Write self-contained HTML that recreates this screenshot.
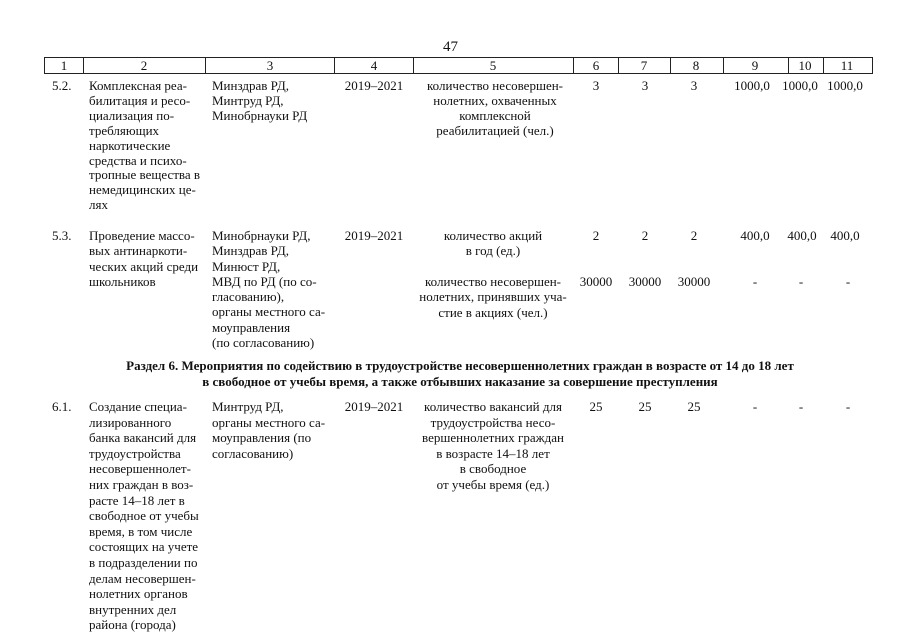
<!DOCTYPE html>
<html><head><meta charset="utf-8"><style>
body{margin:0;background:#fff;width:905px;height:640px;overflow:hidden;position:relative;font-family:"Liberation Serif","DejaVu Serif",serif;color:#111;font-size:13px}
.a{position:absolute;white-space:nowrap}
.c{position:absolute;white-space:nowrap;transform:translateX(-50%);text-align:center}
.v{position:absolute;background:#222;width:1px}
.h{position:absolute;background:#222;height:1px}
</style></head><body>
<div class="a" style="left:443px;top:39px;font-size:15px">47</div>
<div class="h" style="left:44px;top:57px;width:828px"></div>
<div class="h" style="left:44px;top:73px;width:828px"></div>
<div class="v" style="left:44px;top:57px;height:17px"></div>
<div class="v" style="left:83px;top:57px;height:17px"></div>
<div class="v" style="left:205px;top:57px;height:17px"></div>
<div class="v" style="left:334px;top:57px;height:17px"></div>
<div class="v" style="left:413px;top:57px;height:17px"></div>
<div class="v" style="left:573px;top:57px;height:17px"></div>
<div class="v" style="left:618px;top:57px;height:17px"></div>
<div class="v" style="left:670px;top:57px;height:17px"></div>
<div class="v" style="left:723px;top:57px;height:17px"></div>
<div class="v" style="left:788px;top:57px;height:17px"></div>
<div class="v" style="left:823px;top:57px;height:17px"></div>
<div class="v" style="left:872px;top:57px;height:17px"></div>
<div class="c" style="left:64px;top:58px">1</div>
<div class="c" style="left:144px;top:58px">2</div>
<div class="c" style="left:270px;top:58px">3</div>
<div class="c" style="left:374px;top:58px">4</div>
<div class="c" style="left:493px;top:58px">5</div>
<div class="c" style="left:596px;top:58px">6</div>
<div class="c" style="left:644px;top:58px">7</div>
<div class="c" style="left:696px;top:58px">8</div>
<div class="c" style="left:755px;top:58px">9</div>
<div class="c" style="left:805px;top:58px">10</div>
<div class="c" style="left:847px;top:58px">11</div>

<div style="line-height:14.9px">
<div class="a" style="left:52px;top:79px">5.2.</div>
<div class="a" style="left:89px;top:79px">Комплексная реа-<br>билитация и ресо-<br>циализация по-<br>требляющих<br>наркотические<br>средства и психо-<br>тропные вещества в<br>немедицинских це-<br>лях</div>
<div class="a" style="left:212px;top:79px">Минздрав РД,<br>Минтруд РД,<br>Минобрнауки РД</div>
<div class="c" style="left:374px;top:79px">2019–2021</div>
<div class="c" style="left:495px;top:79px">количество несовершен-<br>нолетних, охваченных<br>комплексной<br>реабилитацией (чел.)</div>
<div class="c" style="left:596px;top:79px">3</div>
<div class="c" style="left:645px;top:79px">3</div>
<div class="c" style="left:694px;top:79px">3</div>
<div class="c" style="left:752px;top:79px">1000,0</div>
<div class="c" style="left:800px;top:79px">1000,0</div>
<div class="c" style="left:845px;top:79px">1000,0</div>
</div>

<div style="line-height:15.3px">
<div class="a" style="left:52px;top:228px">5.3.</div>
<div class="a" style="left:89px;top:228px">Проведение массо-<br>вых антинаркоти-<br>ческих акций среди<br>школьников</div>
<div class="a" style="left:212px;top:228px">Минобрнауки РД,<br>Минздрав РД,<br>Минюст РД,<br>МВД по РД (по со-<br>гласованию),<br>органы местного са-<br>моуправления<br>(по согласованию)</div>
<div class="c" style="left:374px;top:228px">2019–2021</div>
<div class="c" style="left:493px;top:228px">количество акций<br>в год (ед.)</div>
<div class="c" style="left:493px;top:274px">количество несовершен-<br>нолетних, принявших уча-<br>стие в акциях (чел.)</div>
<div class="c" style="left:596px;top:228px">2</div>
<div class="c" style="left:645px;top:228px">2</div>
<div class="c" style="left:694px;top:228px">2</div>
<div class="c" style="left:755px;top:228px">400,0</div>
<div class="c" style="left:802px;top:228px">400,0</div>
<div class="c" style="left:845px;top:228px">400,0</div>
<div class="c" style="left:596px;top:274px">30000</div>
<div class="c" style="left:645px;top:274px">30000</div>
<div class="c" style="left:694px;top:274px">30000</div>
<div class="c" style="left:755px;top:274px">-</div>
<div class="c" style="left:801px;top:274px">-</div>
<div class="c" style="left:848px;top:274px">-</div>
</div>

<div class="c" style="left:460px;top:358px;font-weight:bold;line-height:16px">Раздел 6. Мероприятия по содействию в трудоустройстве несовершеннолетних граждан в возрасте от 14 до 18 лет<br>в свободное от учебы время, а также отбывших наказание за совершение преступления</div>

<div style="line-height:15.6px">
<div class="a" style="left:52px;top:399px">6.1.</div>
<div class="a" style="left:89px;top:399px">Создание специа-<br>лизированного<br>банка вакансий для<br>трудоустройства<br>несовершеннолет-<br>них граждан в воз-<br>расте 14–18 лет в<br>свободное от учебы<br>время, в том числе<br>состоящих на учете<br>в подразделении по<br>делам несовершен-<br>нолетних органов<br>внутренних дел<br>района (города)</div>
<div class="a" style="left:212px;top:399px">Минтруд РД,<br>органы местного са-<br>моуправления (по<br>согласованию)</div>
<div class="c" style="left:374px;top:399px">2019–2021</div>
<div class="c" style="left:493px;top:399px">количество вакансий для<br>трудоустройства несо-<br>вершеннолетних граждан<br>в возрасте 14–18 лет<br>в свободное<br>от учебы время (ед.)</div>
<div class="c" style="left:596px;top:399px">25</div>
<div class="c" style="left:645px;top:399px">25</div>
<div class="c" style="left:694px;top:399px">25</div>
<div class="c" style="left:755px;top:399px">-</div>
<div class="c" style="left:801px;top:399px">-</div>
<div class="c" style="left:848px;top:399px">-</div>
</div>
</body></html>
